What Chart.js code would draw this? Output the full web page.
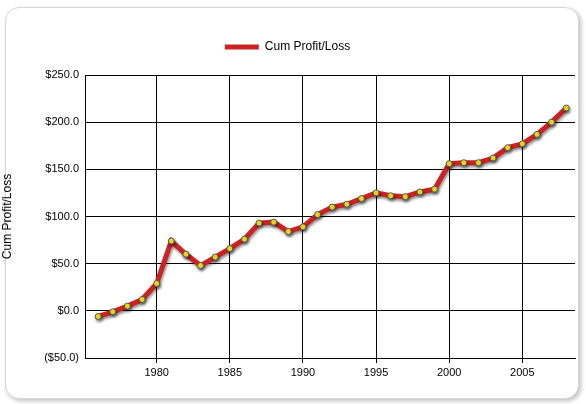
<!DOCTYPE html>
<html><head><meta charset="utf-8">
<script src="https://cdn.jsdelivr.net/npm/chart.js@4"></script>
<style>
html,body{margin:0;padding:0;background:#fff;}
#panel{position:absolute;left:5px;top:7px;width:572px;height:390px;border:1px solid #d8d8d8;border-radius:14px;box-shadow:2px 2px 4px rgba(0,0,0,0.25);background:#fff;}
#wrap{position:absolute;left:0;top:0;width:586px;height:404px;}
</style></head><body>
<div id="panel"></div>
<div id="wrap"><canvas id="c" width="586" height="404"></canvas></div>
<script>
const years = [1976,1977,1978,1979,1980,1981,1982,1983,1984,1985,1986,1987,1988,1989,1990,1991,1992,1993,1994,1995,1996,1997,1998,1999,2000,2001,2002,2003,2004,2005,2006,2007,2008];
const cumPL = [-6,-1,5,12,29,74,60,48,57,66,76,93,94,84,89,102,110,113,119,125,122,121,126,129,156,157,157,162,173,177,187,200,215];
const xTicks = [1980,1985,1990,1995,2000,2005];
const yTicks = [-50,0,50,100,150,200,250];
const seriesName = 'Cum Profit/Loss';

const shadow = {id:'shadow',
  afterInit(chart){const l=chart.legend;if(l){const f=l.fit;l.fit=function(){f.call(this);this.height+=12;};}},
  beforeDatasetDraw(chart){const c=chart.ctx;c.save();c.shadowColor='rgba(0,0,0,0.45)';c.shadowBlur=3;c.shadowOffsetX=1;c.shadowOffsetY=2;},
  afterDatasetDraw(chart){chart.ctx.restore();}};

const fmt = v => v<0 ? '($'+Math.abs(v).toFixed(1)+')' : '$'+v.toFixed(1);

new Chart(document.getElementById('c'),{
  type:'line',
  data:{datasets:[{label:seriesName,data:years.map((y,i)=>({x:y,y:cumPL[i]})),
    borderColor:'#cc2222',borderWidth:5,pointRadius:3,pointBackgroundColor:'#ffee22',pointBorderColor:'#555',pointBorderWidth:1,tension:0}]},
  options:{responsive:false,animation:false,
    layout:{padding:{top:29,right:11,left:0,bottom:0}},
    plugins:{legend:{labels:{color:'#000',font:{family:'Liberation Sans',size:12},boxWidth:34,boxHeight:5,padding:12,
      generateLabels:ch=>[{text:seriesName,fillStyle:'#cc2222',strokeStyle:'#cc2222',lineWidth:0,fontColor:'#000'}]}},
      tooltip:{enabled:false}},
    scales:{
      x:{type:'linear',min:1975.1,max:2008.6,
        afterBuildTicks:a=>{a.ticks=xTicks.map(v=>({value:v}));},
        afterFit:a=>{a.height=46;},
        grid:{color:'#000',lineWidth:1,drawTicks:true,tickLength:5,tickColor:'#000'},
        border:{color:'#000'},
        ticks:{color:'#000',font:{family:'Liberation Sans',size:11},maxRotation:0,callback:v=>String(v)}},
      y:{min:-50,max:250,
        afterBuildTicks:a=>{a.ticks=yTicks.map(v=>({value:v}));},
        afterFit:a=>{a.width=85;},
        grid:{color:'#000',lineWidth:1,drawTicks:false},
        border:{color:'#000'},
        title:{display:true,text:seriesName,color:'#000',font:{family:'Liberation Sans',size:12},padding:{top:0,bottom:18}},
        ticks:{color:'#000',font:{family:'Liberation Sans',size:11},padding:6,callback:v=>fmt(v)}}
    }},
  plugins:[shadow]
});
</script></body></html>
